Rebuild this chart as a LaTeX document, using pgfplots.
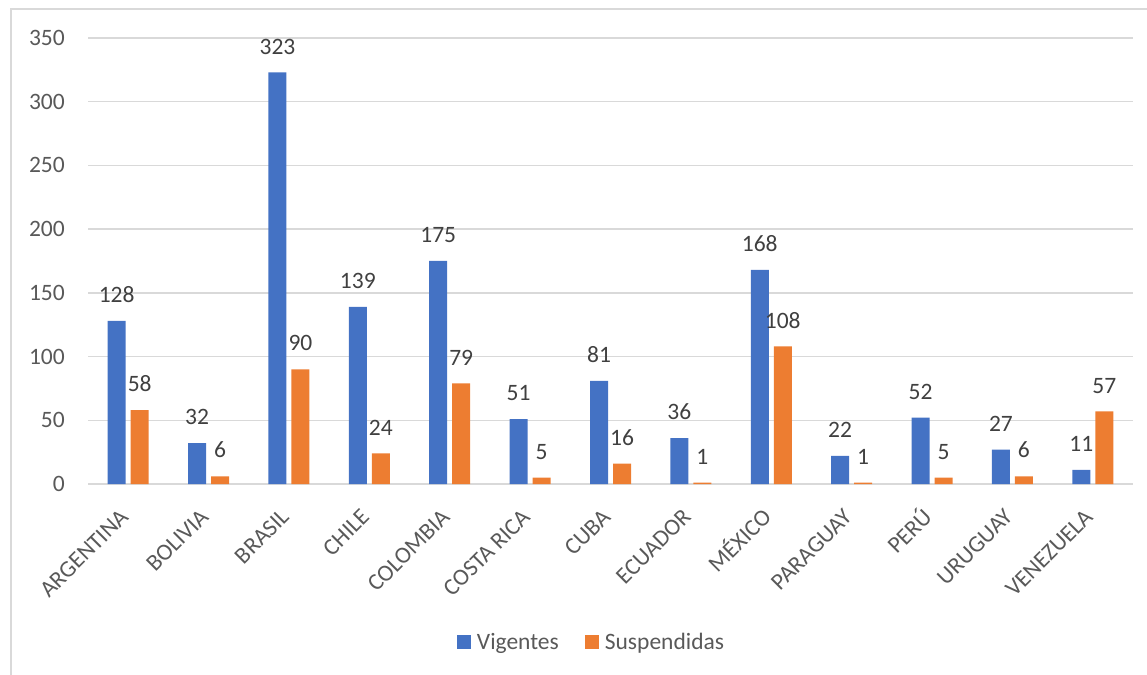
\documentclass[border=0pt]{standalone}
\usepackage{pgfplots}
\pgfplotsset{compat=1.18}
\usepackage{fontspec}
\setmainfont{Carlito}
\definecolor{cblue}{HTML}{4472C4}
\definecolor{corange}{HTML}{ED7D31}
\definecolor{gridc}{HTML}{D9D9D9}
\definecolor{tickc}{HTML}{595959}
\definecolor{labc}{HTML}{404040}
\begin{document}
\begin{tikzpicture}
\path[use as bounding box] (0,0) rectangle (1147pt,674pt);
\draw[gridc, line width=1.3pt] (11pt,-5pt) -- (11pt,665pt) -- (1152pt,665pt);
\begin{axis}[
  at={(88pt,190pt)}, anchor=south west,
  scale only axis, width=1045pt, height=446pt,
  ymin=0, ymax=350, ytick={0,50,...,350},
  xmin=-0.5, xmax=12.5,
  xtick={0,...,12},
  xticklabels={ARGENTINA, BOLIVIA, BRASIL, CHILE, COLOMBIA, COSTA RICA, CUBA, ECUADOR, MÉXICO, PARAGUAY, PERÚ, URUGUAY, VENEZUELA},
  ybar=5pt, bar width=18pt,
  axis line style={draw=none},
  major tick length=0pt,
  ymajorgrids, major grid style={gridc, line width=1.3pt},
  tick label style={font=\fontsize{23.5}{28}\selectfont, text=tickc},
  /pgf/number format/assume math mode=true,
  yticklabel style={anchor=east, inner sep=0pt, xshift=-23pt},
  xticklabel style={xshift=-9pt, yshift=-24pt, rotate=45, anchor=north east, inner sep=0pt, text height=14.5pt, text depth=0pt},
  nodes near coords,
  every node near coord/.append style={font=\fontsize{23.5}{28}\selectfont, text=labc, anchor=south, inner sep=0pt, yshift=18pt},
  legend style={at={(0.35,-0.354)}, anchor=west, draw=none, fill=none, legend columns=2,
    font=\fontsize{23.5}{28}\selectfont, text=tickc,
    /tikz/every odd column/.append style={column sep=6pt},
    /tikz/every even column/.append style={column sep=26pt},
    nodes={inner sep=0pt}},
]
\addplot[fill=cblue, draw=none, legend image code/.code={\fill[cblue] (0pt,-7pt) rectangle (14pt,7pt);}]
  coordinates {(0,128) (1,32) (2,323) (3,139) (4,175) (5,51) (6,81) (7,36) (8,168) (9,22) (10,52) (11,27) (12,11)};
\addplot[fill=corange, draw=none, legend image code/.code={\fill[corange] (0pt,-7pt) rectangle (14pt,7pt);}]
  coordinates {(0,58) (1,6) (2,90) (3,24) (4,79) (5,5) (6,16) (7,1) (8,108) (9,1) (10,5) (11,6) (12,57)};
\legend{Vigentes, Suspendidas}
\end{axis}
\end{tikzpicture}
\end{document}
